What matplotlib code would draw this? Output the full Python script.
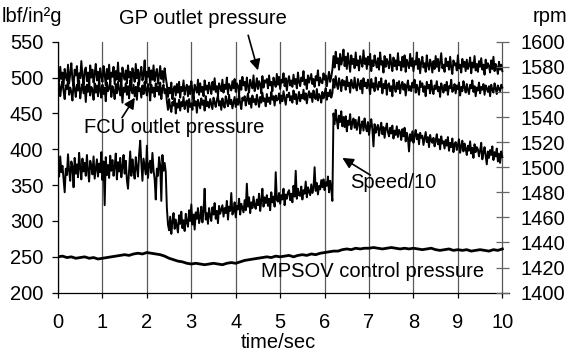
import numpy as np
import matplotlib
matplotlib.use("Agg")
import matplotlib.pyplot as plt

plt.rcParams['font.family'] = ['Liberation Sans', 'DejaVu Sans']

# sample times (s) for the fast traces, 0.025 s apart
t = np.arange(401) * 0.025
# MPSOV trace read every 0.1 s
t_mpsov = np.arange(101) * 0.1

gp_outlet = [
    # 0 - 2.425 s
    509, 494, 515, 498, 507, 489, 512, 501, 496, 518,
    492, 505, 520, 497, 488, 511, 503, 516, 491, 506,
    499, 523, 502, 490, 510, 514, 495, 507, 487, 517,
    500, 511, 493, 505, 519, 496, 508, 490, 513, 502,
    494, 516, 504, 489, 512, 498, 518, 493, 507, 501,
    515, 491, 509, 497, 521, 495, 506, 488, 514, 503,
    497, 510, 492, 517, 500, 508, 486, 513, 505, 494,
    519, 499, 511, 490, 506, 515, 496, 503, 524, 492,
    508, 501, 514, 489, 510, 497, 517, 495, 506, 512,
    491, 504, 516, 498, 509, 493, 513, 500,
    # 2.45 - 6.175 s
    490, 473, 486, 478, 493, 470, 484, 488, 475, 491,
    479, 494, 472, 487, 481, 496, 476, 485, 490, 474,
    488, 477, 495, 482, 471, 490, 485, 479, 497, 476,
    492, 480, 487, 474, 496, 483, 489, 478, 493, 486,
    477, 494, 483, 499, 480, 488, 475, 492, 486, 481,
    497, 479, 490, 484, 500, 477, 491, 487, 482, 495,
    485, 498, 480, 492, 488, 476, 496, 483, 501, 489,
    494, 482, 500, 487, 479, 497, 490, 485, 503, 481,
    488, 499, 484, 495, 491, 478, 502, 486, 496, 493,
    498, 485, 503, 489, 494, 481, 500, 492, 487, 505,
    490, 501, 484, 497, 493, 506, 488, 499, 482, 495,
    502, 489, 496, 487, 504, 491, 498, 485, 507, 494,
    488, 500, 495, 509, 490, 497, 484, 503, 493, 499,
    505, 491, 498, 487, 502, 496, 510, 489, 500, 494,
    492, 506, 497, 503, 488, 499, 508, 494, 501, 511,
    # 6.2 - 10 s
    530, 514, 536, 520, 527, 511, 533, 518, 525, 539,
    516, 529, 512, 534, 521, 508, 531, 519, 526, 513,
    535, 517, 524, 510, 530, 522, 515, 538, 519, 527,
    512, 529, 518, 533, 509, 524, 516, 531, 521, 514,
    527, 511, 535, 518, 523, 507, 530, 515, 526, 520,
    513, 532, 519, 509, 528, 516, 524, 511, 534, 517,
    522, 510, 529, 515, 531, 508, 525, 519, 513, 533,
    516, 527, 509, 523, 518, 535, 512, 526, 506, 521,
    529, 514, 520, 508, 531, 517, 511, 525, 519, 507,
    523, 512, 530, 515, 526, 509, 521, 534, 513, 518,
    508, 527, 516, 522, 511, 529, 514, 505, 524, 517,
    520, 510, 531, 513, 518, 507, 526, 515, 522, 509,
    525, 512, 517, 528, 506, 521, 514, 530, 510, 519,
    508, 523, 515, 527, 511, 518, 504, 525, 513, 520,
    516, 507, 524, 512, 529, 509, 519, 514, 505, 522,
    511, 518, 509,
]

fcu_outlet = [
    479, 492, 474, 487, 495, 481, 470, 489, 484, 497,
    476, 486, 480, 468, 493, 485, 473, 490, 482, 496,
    471, 484, 491, 478, 488, 466, 490, 480, 494, 475,
    487, 483, 469, 492, 479, 489, 474, 496, 482, 472,
    490, 477, 486, 467, 493, 481, 485, 495, 473, 488,
    482, 470, 491, 478, 494, 484, 475, 489, 465, 486,
    480, 492, 476, 488, 471, 496, 483, 478, 490, 474,
    487, 469, 493, 481, 485, 472, 489, 477, 494, 483,
    475, 491, 484, 468, 490, 479, 486, 473, 492, 481,
    488, 476, 493, 470, 485, 490, 478, 484,
    467, 455, 470, 459, 452, 466, 461, 471, 450, 464,
    458, 469, 454, 466, 460, 473, 456, 465, 468, 452,
    470, 459, 464, 455, 472, 461, 467, 451, 469, 463,
    457, 471, 462, 468, 454, 474, 460, 466, 458, 470,
    463, 456, 472, 465, 459, 469, 475, 461, 467, 455,
    471, 462, 458, 474, 466, 460, 476, 463, 469, 457,
    465, 473, 459, 470, 462, 477, 464, 456, 472, 468,
    474, 461, 469, 478, 463, 471, 458, 475, 466, 470,
    462, 476, 468, 459, 473, 465, 479, 467, 471, 460,
    477, 466, 472, 463, 480, 469, 474, 461, 475, 468,
    470, 478, 464, 475, 467, 481, 471, 462, 476, 473,
    479, 468, 474, 465, 482, 470, 477, 463, 472, 480,
    467, 476, 471, 483, 469, 478, 464, 475, 481, 472,
    478, 466, 482, 473, 470, 484, 468, 477, 474, 465,
    480, 471, 477, 485, 469, 479, 474, 483, 472, 478,
    498, 486, 502, 490, 484, 499, 492, 481, 497, 489,
    495, 483, 501, 488, 493, 479, 497, 490, 485, 500,
    487, 482, 498, 491, 484, 496, 478, 499, 488, 493,
    485, 497, 489, 477, 498, 486, 492, 481, 500, 488,
    483, 494, 487, 499, 478, 491, 485, 496, 476, 490,
    492, 481, 488, 474, 497, 486, 480, 493, 484, 495,
    478, 489, 494, 483, 491, 475, 487, 496, 482, 488,
    481, 493, 486, 497, 479, 490, 484, 476, 495, 487,
    492, 480, 488, 474, 494, 485, 490, 478, 496, 483,
    477, 489, 484, 495, 481, 487, 473, 492, 486, 479,
    490, 482, 494, 476, 488, 485, 497, 480, 483, 491,
    478, 489, 484, 493, 475, 487, 481, 495, 486, 479,
    491, 483, 477, 490, 485, 496, 480, 488, 474, 486,
    482, 493, 478, 487, 483, 491, 476, 489, 485, 480,
    488, 474, 490, 483, 479, 492, 485, 477, 489, 484,
    481, 490, 486,
]

speed_div10 = [
    381, 362, 390, 368, 377, 359, 340, 373, 364, 393,
    370, 356, 383, 376, 347, 388, 366, 379, 361, 395,
    374, 358, 387, 369, 381, 363, 392, 371, 355, 384,
    377, 365, 390, 359, 373, 386, 362, 380, 368, 396,
    357, 383, 322, 389, 364, 378, 360, 391, 370, 385,
    363, 376, 394, 358, 382, 369, 388, 361, 375, 392,
    366, 384, 357, 345, 372, 397, 363, 386, 370, 359,
    389, 374, 362, 393, 412, 381, 356, 387, 376, 365,
    405, 360, 378, 384, 367, 395, 371, 358, 330, 373,
    363, 389, 377, 328, 392, 370, 381, 368,
    318, 295, 287, 306, 282, 299, 311, 289, 302, 293,
    284, 308, 296, 313, 290, 301, 286, 310, 298, 292,
    315, 300, 323, 295, 309, 288, 312, 303, 318, 297,
    305, 320, 298, 314, 345, 302, 311, 296, 318, 307,
    300, 319, 309, 325, 303, 314, 297, 321, 310, 316,
    322, 306, 318, 311, 328, 302, 320, 314, 339, 309,
    313, 326, 305, 321, 316, 331, 309, 324, 318, 312,
    329, 315, 352, 320, 333, 311, 326, 318, 334, 321,
    317, 330, 322, 338, 314, 328, 345, 320, 333, 325,
    336, 321, 331, 315, 340, 326, 334, 320, 368, 329,
    327, 339, 324, 336, 330, 345, 322, 337, 331, 340,
    343, 329, 338, 326, 349, 334, 370, 331, 345, 336,
    335, 348, 330, 343, 338, 355, 333, 347, 341, 336,
    351, 339, 346, 375, 342, 353, 337, 349, 344, 357,
    347, 358, 343, 354, 349, 362, 340, 356, 345, 328,
    450, 435, 455, 441, 429, 447, 438, 453, 432, 445,
    431, 446, 425, 440, 434, 449, 428, 437, 443, 430,
    441, 427, 436, 445, 422, 433, 439, 426, 443, 431,
    425, 438, 420, 432, 442, 428, 404, 435, 423, 430,
    434, 419, 429, 437, 421, 431, 416, 428, 436, 424,
    418, 430, 422, 433, 415, 426, 420, 432, 417, 427,
    424, 413, 428, 418, 430, 411, 423, 416, 397, 421,
    412, 425, 409, 419, 427, 414, 421, 407, 423, 416,
    419, 406, 415, 424, 410, 417, 403, 420, 412, 409,
    416, 404, 412, 421, 407, 414, 400, 418, 408, 411,
    401, 413, 405, 417, 398, 409, 403, 415, 396, 407,
    410, 399, 406, 414, 395, 404, 412, 397, 408, 401,
    392, 405, 398, 411, 394, 402, 388, 407, 396, 403,
    400, 390, 398, 409, 386, 395, 403, 391, 379, 397,
    388, 399, 392, 404, 385, 396, 390, 401, 383, 394,
    381, 397, 389,
]

mpsov = [
    250, 251, 249, 250, 248, 249, 250, 248, 249, 247, 248,
    249, 250, 251, 252, 253, 252, 254, 255, 254, 256,
    255, 254, 253, 251, 248, 246, 244, 243, 241, 240,
    241, 240, 239, 240, 241, 240, 239, 241, 242, 241,
    243, 245, 246, 247, 248, 249, 250, 249, 251, 250,
    251, 252, 250, 252, 253, 252, 254, 253, 255, 256,
    257, 258, 258, 260, 261, 260, 262, 261, 262, 262,
    263, 262, 261, 262, 263, 262, 261, 262, 261, 262,
    261, 260, 261, 262, 260, 259, 260, 261, 259, 260,
    259, 260, 258, 259, 260, 259, 258, 260, 259, 261,
]

left_ticks = [200, 250, 300, 350, 400, 450, 500, 550]
right_ticks = [1400, 1420, 1440, 1460, 1480, 1500, 1520, 1540, 1560, 1580, 1600]
x_ticks = [0, 1, 2, 3, 4, 5, 6, 7, 8, 9, 10]

fig = plt.figure(figsize=(5.71, 3.52), dpi=100)
ax = fig.add_axes([0.1016, 0.1685, 0.7898, 0.713])

ax.plot(t, gp_outlet, color='k', lw=1.4)
ax.plot(t, fcu_outlet, color='k', lw=1.4)
ax.plot(t, speed_div10, color='k', lw=1.4)
ax.plot(t_mpsov, mpsov, color='k', lw=2.0)

ax.set_xlim(0, 10.15)
ax.set_ylim(200, 550)
ax.set_xticks(x_ticks)
ax.set_yticks(left_ticks)
ax.tick_params(axis='y', direction='out', length=4.5, width=0.9, pad=6, labelsize=14.5)
ax.tick_params(axis='x', direction='out', length=3.5, width=0.9, pad=11, labelsize=14.5)
ax.xaxis.grid(True, color='0.35', lw=0.9)
ax.set_axisbelow(True)
for s in ['top', 'right']:
    ax.spines[s].set_visible(False)
for s in ['left', 'bottom']:
    ax.spines[s].set_linewidth(0.9)

ax2 = ax.twinx()
ax2.set_ylim(1400, 1600)
ax2.set_yticks(right_ticks)
ax2.tick_params(axis='y', direction='in', length=9.5, width=0.9, color='0.4', pad=8, labelsize=14.5)
for s in ax2.spines.values():
    s.set_visible(False)

fig.text(0.003, 0.952, 'lbf/in\u00b2g', fontsize=14.5, ha='left', va='center')
fig.text(0.932, 0.952, 'rpm', fontsize=14.5, ha='left', va='center')
fig.text(0.487, 0.028, 'time/sec', fontsize=14.5, ha='center', va='center')

arrow = dict(arrowstyle='-|>', color='k', lw=1.2, mutation_scale=16, shrinkA=0, shrinkB=0)
ax.annotate('', xy=(4.5, 510), xytext=(4.28, 559), arrowprops=arrow, annotation_clip=False)
ax.text(3.27, 583, 'GP outlet pressure', fontsize=14.5, ha='center', va='center', clip_on=False)
ax.annotate('', xy=(1.73, 472), xytext=(1.44, 444), arrowprops=arrow)
ax.text(2.62, 431, 'FCU outlet pressure', fontsize=14.5, ha='center', va='center')
ax.annotate('', xy=(6.4, 388), xytext=(7.03, 364), arrowprops=arrow)
ax.text(7.55, 353, 'Speed/10', fontsize=14.5, ha='center', va='center')
ax.text(7.07, 230, 'MPSOV control pressure', fontsize=14.5, ha='center', va='center')

fig.savefig('out.png', dpi=100)
